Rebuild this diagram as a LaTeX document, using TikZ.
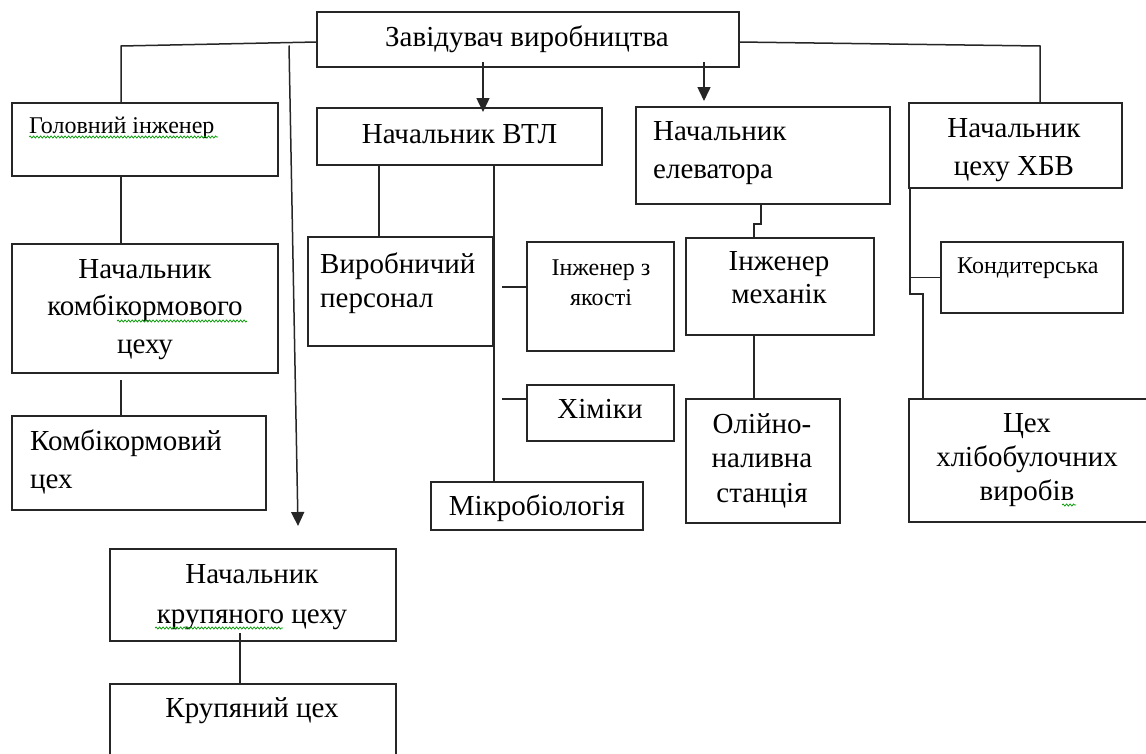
\documentclass[tikz,border=0pt]{standalone}
\usepackage{fontspec}
\setmainfont{Liberation Serif}
\usetikzlibrary{arrows.meta,decorations.pathmorphing}
\newcommand\mkbox[5]{\node[box, minimum width=#4pt, minimum height=#5pt] (#1) at (#2,#3) {};}
\begin{document}
\begin{tikzpicture}[x=1pt,y=-1pt,
  box/.style={draw=black!85, line width=1.5pt, inner sep=0pt, outer sep=0pt, anchor=north west},
  conn/.style={draw=black!85, line width=1.5pt},
  arr/.style={conn, -{Triangle[width=13pt,length=14pt]}},
  big/.style={font=\fontsize{29}{37}\selectfont, inner sep=0pt},
  small/.style={font=\fontsize{24}{30}\selectfont, inner sep=0pt},
  spell/.style={draw=green!60!black, line width=0.7pt, decorate, decoration={snake, amplitude=1.1pt, segment length=3.5pt}}]
\useasboundingbox (0,0) rectangle (1146,753);
\fill[white] (0,0) rectangle (1146,753);
\begin{scope}
\clip (0,0) rectangle (1146,753);
% boxes
\mkbox{zav}{317}{12}{422}{55}
\mkbox{gol}{12}{103}{266}{73}
\mkbox{vtl}{317}{108}{285}{57}
\mkbox{elev}{636}{107}{254}{97}
\mkbox{hbv}{909}{103}{213}{85}
\mkbox{komb}{12}{244}{266}{129}
\mkbox{kombc}{12}{416}{254}{94}
\mkbox{vyr}{308}{237}{185}{109}
\mkbox{yak}{527}{242}{147}{109}
\mkbox{him}{527}{385}{147}{56}
\mkbox{mikro}{431}{482}{212}{48}
\mkbox{mech}{686}{238}{188}{97}
\mkbox{oliy}{686}{399}{154}{124}
\mkbox{kond}{941}{242}{182}{71}
\mkbox{hlib}{909}{399}{260}{123}
\mkbox{krup}{110}{549}{286}{92}
\mkbox{krupc}{110}{684}{286}{100}
\end{scope}
% texts (multi-line nodes: base anchor = baseline of the last line)
\node[big, anchor=base] (tzav) at (527,46) {Завідувач виробництва};
\node[small, anchor=base west] (tgol) at (29,133) {Головний інженер};
\node[big, anchor=base] (tvtl) at (459.5,143) {Начальник ВТЛ};
\node[big, anchor=base west, align=left, font=\fontsize{29}{38}\selectfont] (telev) at (653,178) {Начальник\\елеватора};
\node[big, anchor=base, align=center, font=\fontsize{29}{38}\selectfont] (thbv) at (1014,175) {Начальник\\цеху ХБВ};
\node[big, anchor=base, align=center, font=\fontsize{29}{37.5}\selectfont] (tkomb) at (145,353) {Начальник\\комбікормового\\цеху};
\node[big, anchor=base west, align=left, font=\fontsize{29}{38}\selectfont] (tkombc) at (30,488) {Комбікормовий\\цех};
\node[big, anchor=base west, align=left, font=\fontsize{29}{34}\selectfont] (tvyr) at (320,307) {Виробничий\\персонал};
\node[small, anchor=base, align=center] (tyak) at (601,305) {Інженер з\\якості};
\node[big, anchor=base] (thim) at (600,418) {Хіміки};
\node[big, anchor=base] (tmikro) at (537,515) {Мікробіологія};
\node[big, anchor=base, align=center, font=\fontsize{29}{33}\selectfont] (tmech) at (779,303) {Інженер\\механік};
\node[big, anchor=base, align=center, font=\fontsize{29}{34.5}\selectfont] (toliy) at (762,502) {Олійно-\\наливна\\станція};
\node[small, anchor=base west] (tkond) at (957,273) {Кондитерська};
\node[big, anchor=base, align=center, font=\fontsize{29}{34}\selectfont] (thlib) at (1027,500) {Цех\\хлібобулочних\\виробів};
\node[big, anchor=base, align=center, font=\fontsize{29}{40}\selectfont] (tkrup) at (252,623) {Начальник\\крупяного цеху};
\node[big, anchor=base] (tkrupc) at (252,717) {Крупяний цех};
% spell-check marks
\draw[spell] (29,137) -- (218,137);
\draw[spell] (117,321) -- (247,321);
\draw[spell] (155,628) -- (283,628);
\draw[spell] (1062,505) -- (1076,505);
% connectors
\coordinate (jL) at (121,46);
\coordinate (jA) at (289,45.5);
\coordinate (aT) at (298,526);
\coordinate (jR) at (1040,46);
\draw[conn] ([yshift=-2.5pt]zav.west) -- (jL) -- (jL |- gol.north);
\draw[arr] (jA) -- (aT);
\draw[conn] ([yshift=-2.5pt]zav.east) -- (jR) -- (jR |- hbv.north);
\coordinate (a1) at (483,62);
\coordinate (a1t) at (483,112);
\draw[arr] (a1) -- (a1t);
\coordinate (a2) at (704,62);
\coordinate (a2t) at (704,101);
\draw[arr] (a2) -- (a2t);
\draw[conn] (gol.south -| jL) -- (komb.north -| jL);
\coordinate (k1) at (121,380);
\draw[conn] (k1) -- (k1 |- kombc.north);
\coordinate (v1) at (379,165);
\draw[conn] (v1) -- (v1 |- vyr.north);
\coordinate (v2) at (494,165);
\draw[conn] (v2) -- (v2 |- mikro.north);
\coordinate (s1) at (502,287);
\draw[conn] (s1) -- (s1 -| yak.west);
\coordinate (s2) at (502,399);
\draw[conn] (s2) -- (s2 -| him.west);
\coordinate (e1) at (761,204);
\coordinate (e2) at (761,224);
\coordinate (e3) at (754,224);
\draw[conn] (e1) -- (e2) -- (e3) -- (e3 |- mech.north);
\draw[conn] (e3 |- mech.south) -- (e3 |- oliy.north);
\coordinate (h1) at (910,188);
\coordinate (h2) at (910,294);
\coordinate (h3) at (923,294);
\draw[conn] (h1) -- (h1 |- kond.west) -- (kond.west);
\draw[conn] (h1 |- kond.west) -- (h2) -- (h3) -- (h3 |- hlib.north);
\coordinate (c1) at (240,633);
\draw[conn] (c1) -- (c1 |- krupc.north);
\end{tikzpicture}
\end{document}
